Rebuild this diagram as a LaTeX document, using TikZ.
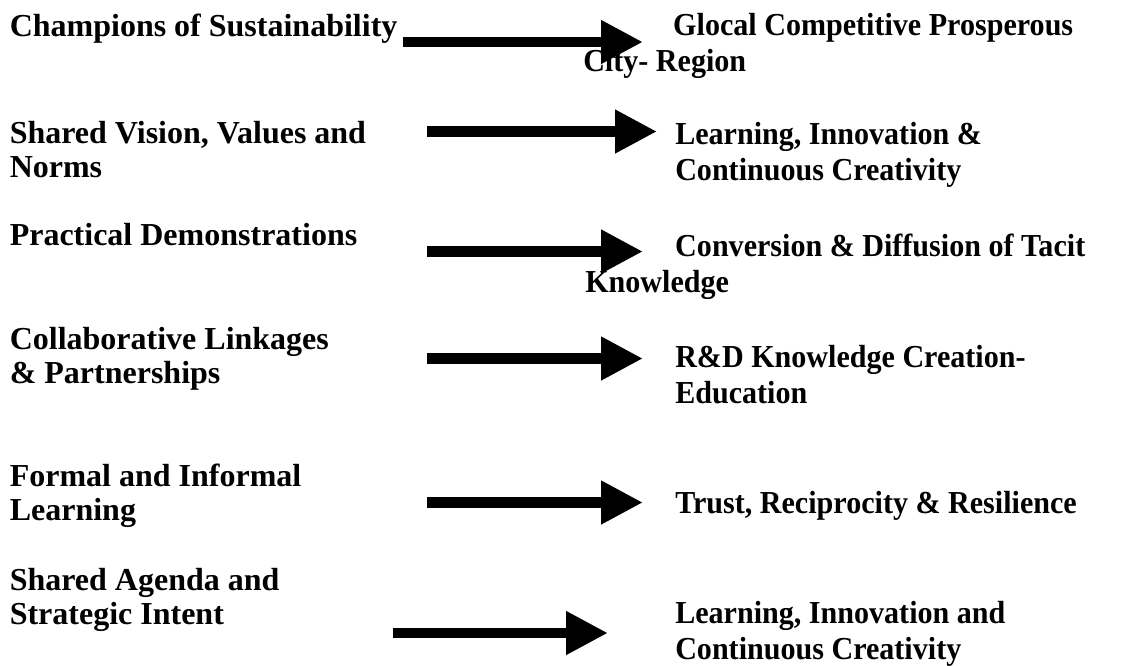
\documentclass[tikz,border=0pt]{standalone}
\usepackage{fontspec}
\setmainfont{Liberation Serif}
\usetikzlibrary{arrows.meta}
\tikzset{
  lefttxt/.style={anchor=base west, inner sep=0pt, align=left, font=\bfseries\fontsize{24}{25.7}\selectfont},
  righttxt/.style={anchor=base west, inner sep=0pt, align=left, xscale=0.94, transform shape, font=\bfseries\fontsize{24}{27}\selectfont},
  bigarrow/.style={line width=7.9pt, -{Triangle[length=31.5pt,width=30.75pt]}}
}
\begin{document}
\begin{tikzpicture}[x=0.75pt,y=-0.75pt]
\useasboundingbox (0,0) rectangle (1124,665);
% left column (anchor = baseline of the last line)
\node[lefttxt] (l1) at (9.5,36) {Champions of Sustainability};
\node[lefttxt] (l2) at (9.5,177.3) {Shared Vision, Values and\\Norms};
\node[lefttxt] (l3) at (9.5,245.7) {Practical Demonstrations};
\node[lefttxt] (l4) at (9.5,383.3) {Collaborative Linkages\\\& Partnerships};
\node[lefttxt] (l5) at (9.5,520.7) {Formal and Informal\\Learning};
\node[lefttxt] (l6) at (9.5,624.3) {Shared Agenda and\\Strategic Intent};
% right column
\node[righttxt] (r1) at (583,71.7) {\hspace*{71.8pt}Glocal Competitive Prosperous\\City- Region};
\node[righttxt] (r2) at (675,180) {Learning, Innovation \&\\Continuous Creativity};
\node[righttxt] (r3) at (585,292.7) {\hspace*{71.8pt}Conversion \& Diffusion of Tacit\\Knowledge};
\node[righttxt] (r4) at (675,403.3) {R\&D Knowledge Creation-\\Education};
\node[righttxt] (r5) at (675,513.3) {Trust, Reciprocity \& Resilience};
\node[righttxt] (r6) at (675,659) {Learning, Innovation and\\Continuous Creativity};
% arrow end points
\coordinate (a1s) at (403,42);    \coordinate (a1e) at (643,42);
\coordinate (a2s) at (427,131.5); \coordinate (a2e) at (657,131.5);
\coordinate (a3s) at (427,251.5); \coordinate (a3e) at (643,251.5);
\coordinate (a4s) at (427,358.5); \coordinate (a4e) at (643,358.5);
\coordinate (a5s) at (427,502.5); \coordinate (a5e) at (643,502.5);
\coordinate (a6s) at (393,633);   \coordinate (a6e) at (608,633);
\foreach \i in {1,...,6} {\draw[bigarrow] (a\i s) -- (a\i e);}
\end{tikzpicture}
\end{document}
